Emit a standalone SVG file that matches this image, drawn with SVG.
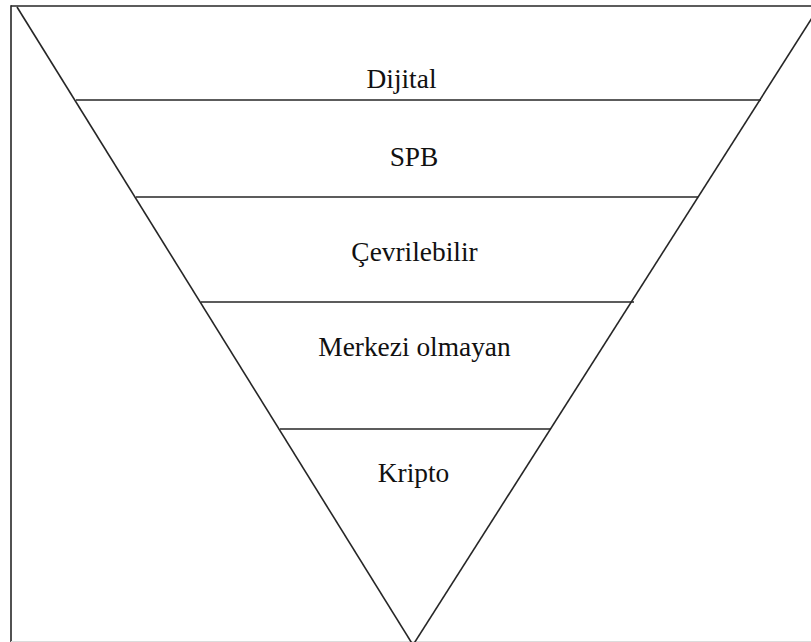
<svg xmlns="http://www.w3.org/2000/svg" width="811" height="642" viewBox="0 0 811 642">
<style>
.ln{stroke:#262626;stroke-width:1.6;fill:none}
.lbl{font-family:"Liberation Serif","Times New Roman",serif;font-size:27.4px;fill:#111;text-anchor:middle}
</style>
<rect width="811" height="642" fill="#fff"/>
<g id="frame">
<line class="ln" x1="11" y1="6" x2="811" y2="6"/>
<line class="ln" x1="11" y1="5.2" x2="11" y2="642" stroke-width="2.2"/>
<line x1="11" y1="641.5" x2="811" y2="641.5" stroke="#dcdcdc" stroke-width="1"/>
</g>
<g id="connectors">
<line class="ln" x1="17" y1="7" x2="413" y2="645"/>
<line class="ln" x1="819" y1="7" x2="413" y2="645"/>
<line class="ln" x1="76" y1="100" x2="761" y2="100"/>
<line class="ln" x1="136" y1="197" x2="698" y2="197"/>
<line class="ln" x1="201" y1="302" x2="634" y2="302"/>
<line class="ln" x1="280" y1="429" x2="551" y2="429"/>
</g>
<g id="dijital"><text class="lbl" x="401.5" y="88">Dijital</text></g>
<g id="spb"><text class="lbl" x="414" y="166">SPB</text></g>
<g id="cevrilebilir"><text class="lbl" x="414.5" y="261">Çevrilebilir</text></g>
<g id="merkezi-olmayan"><text class="lbl" x="414.5" y="356">Merkezi olmayan</text></g>
<g id="kripto"><text class="lbl" x="413.5" y="482">Kripto</text></g>
</svg>
